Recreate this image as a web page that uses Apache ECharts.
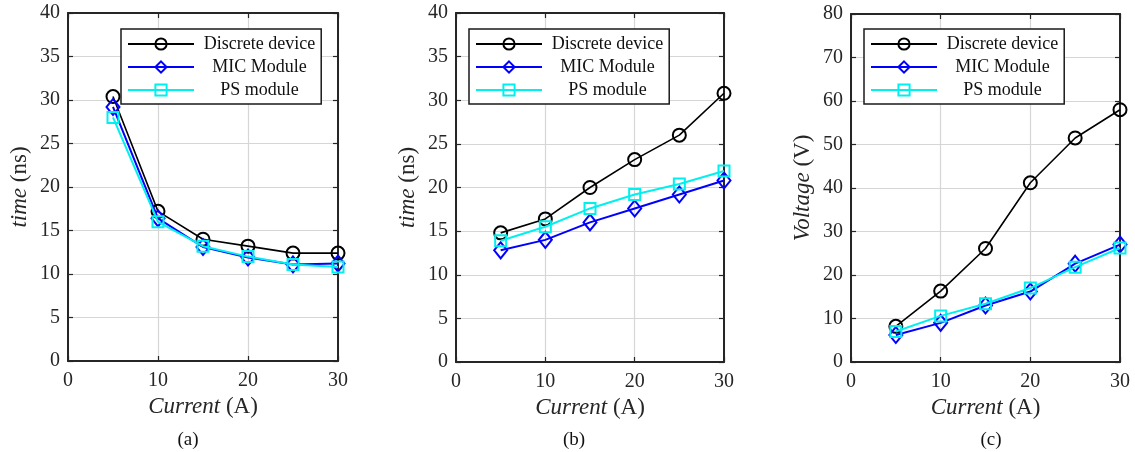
<!DOCTYPE html>
<html>
<head>
<meta charset="utf-8">
<script src="https://cdn.jsdelivr.net/npm/echarts@6/dist/echarts.min.js"></script>
<style>
  html, body { margin: 0; padding: 0; background: #fff; }
  #chart { width: 1135px; height: 452px; }
</style>
</head>
<body>
<div id="chart"></div>
<script>
// Current (A) at which each quantity was measured
const currents = [5, 10, 15, 20, 25, 30];
const xTicks = [0, 10, 20, 30];

// (a) time (ns) vs current
const aDiscrete = [30.4, 17.2, 14.0, 13.2, 12.4, 12.4];
const aMIC      = [29.2, 16.4, 13.1, 11.9, 11.1, 11.2];
const aPS       = [28.0, 16.0, 13.2, 12.0, 11.1, 10.8];

// (b) time (ns) vs current
const bDiscrete = [14.8, 16.4, 20.0, 23.2, 26.0, 30.8];
const bMIC      = [12.8, 14.0, 16.0, 17.6, 19.2, 20.8];
const bPS       = [13.9, 15.5, 17.6, 19.2, 20.4, 21.9];

// (c) voltage (V) vs current
const cDiscrete = [8.2, 16.3, 26.1, 41.2, 51.5, 58.0];
const cMIC      = [6.2, 9.0, 13.0, 16.2, 22.6, 27.0];
const cPS       = [7.0, 10.6, 13.4, 17.0, 21.8, 26.2];

const seriesNames = ['Discrete device', 'MIC Module', 'PS module'];
const captions = ['(a)', '(b)', '(c)'];

const FONT = "'Liberation Serif', 'Times New Roman', serif";
const AXIS_COLOR = '#262626';
const GRID_COLOR = '#d6d6d6';
const COLORS = ['#000000', '#0000ff', '#00f0f0'];
const DIAMOND = 'path://M0,-1L1,0L0,1L-1,0Z';
const SQUARE = 'path://M-1,-1L1,-1L1,1L-1,1Z';

const panels = [
  { left: 68,  top: 13, width: 270, height: 348, yMax: 40, yStep: 5,  yName: '{i|time} (ns)',    data: [aDiscrete, aMIC, aPS], legendLeft: 121, capX: 188 },
  { left: 456, top: 13, width: 268, height: 349, yMax: 40, yStep: 5,  yName: '{i|time} (ns)',    data: [bDiscrete, bMIC, bPS], legendLeft: 469, capX: 574 },
  { left: 851, top: 14, width: 269, height: 348, yMax: 80, yStep: 10, yName: '{i|Voltage} (V)', data: [cDiscrete, cMIC, cPS], legendLeft: 864, capX: 991 }
];

const grid = [], xAxis = [], yAxis = [], series = [], legend = [], graphic = [];

const boxLine = { show: true, onZero: false, lineStyle: { color: AXIS_COLOR, width: 2 } };
const inTick = { show: true, inside: true, length: 5, lineStyle: { color: AXIS_COLOR, width: 1.2 } };
const labelStyle = { fontFamily: FONT, fontSize: 20, color: AXIS_COLOR };
const nameRich = { i: { fontFamily: FONT, fontSize: 23, fontStyle: 'italic', color: AXIS_COLOR } };

panels.forEach((p, gi) => {
  grid.push({ left: p.left, top: p.top, width: p.width, height: p.height, containLabel: false });

  // bottom axis with labels and grid lines
  xAxis.push({
    type: 'value', gridIndex: gi, min: 0, max: 30, interval: 10,
    name: '{i|Current} (A)', nameLocation: 'middle', nameGap: 33,
    nameTextStyle: { fontFamily: FONT, fontSize: 23, color: AXIS_COLOR, rich: nameRich },
    axisLine: boxLine, axisTick: inTick,
    axisLabel: Object.assign({ margin: 10, customValues: xTicks }, labelStyle),
    splitLine: { show: true, lineStyle: { color: GRID_COLOR, width: 1.2 } }
  });
  // top edge of the box
  xAxis.push({
    type: 'value', gridIndex: gi, position: 'top', min: 0, max: 30, interval: 10,
    axisLine: boxLine, axisTick: inTick, axisLabel: { show: false }, splitLine: { show: false }
  });

  // left axis with labels and grid lines
  yAxis.push({
    type: 'value', gridIndex: gi, min: 0, max: p.yMax, interval: p.yStep,
    name: p.yName, nameLocation: 'middle', nameGap: 37, nameRotate: 90,
    nameTextStyle: { fontFamily: FONT, fontSize: 23, color: AXIS_COLOR, rich: nameRich },
    axisLine: boxLine, axisTick: inTick,
    axisLabel: Object.assign({ margin: 8 }, labelStyle),
    splitLine: { show: true, lineStyle: { color: GRID_COLOR, width: 1.2 } }
  });
  // right edge of the box
  yAxis.push({
    type: 'value', gridIndex: gi, position: 'right', min: 0, max: p.yMax, interval: p.yStep,
    axisLine: boxLine, axisTick: inTick, axisLabel: { show: false }, splitLine: { show: false }
  });

  const styles = [
    { symbol: 'circle',  symbolSize: 13,       lineWidth: 1.6 },
    { symbol: DIAMOND,   symbolSize: [13, 16], lineWidth: 2 },
    { symbol: SQUARE,    symbolSize: 11,       lineWidth: 2 }
  ];
  p.data.forEach((vals, si) => {
    const st = styles[si];
    series.push({
      type: 'line', name: seriesNames[si],
      xAxisIndex: gi * 2, yAxisIndex: gi * 2,
      data: currents.map((c, k) => [c, vals[k]]),
      symbol: st.symbol, symbolSize: st.symbolSize, showSymbol: true,
      lineStyle: { color: COLORS[si], width: st.lineWidth },
      itemStyle: { color: 'rgba(255,255,255,0)', borderColor: COLORS[si], borderWidth: 2 },
      emphasis: { disabled: true },
      animation: false,
      z: 3 + si
    });
  });

  legend.push({
    data: seriesNames,
    orient: 'vertical',
    left: p.legendLeft, top: 29,
    backgroundColor: '#ffffff',
    borderColor: '#1a1a1a', borderWidth: 1.5, borderRadius: 0,
    padding: [6, 6, 5, 6],
    itemWidth: 66, itemHeight: 14, itemGap: 5,
    selectedMode: false,
    formatter: name => '{t|' + name + '}',
    textStyle: {
      fontFamily: FONT, fontSize: 18, color: '#111',
      rich: { t: { fontFamily: FONT, fontSize: 18, color: '#111', width: 121, align: 'center' } }
    }
  });

  graphic.push({
    type: 'text', x: p.capX, y: 440,
    style: { text: captions[gi], font: '19px ' + FONT, fill: '#111', textAlign: 'center', textVerticalAlign: 'middle' }
  });
});

const chart = echarts.init(document.getElementById('chart'), null, { renderer: 'canvas' });
chart.setOption({
  backgroundColor: '#ffffff',
  animation: false,
  grid, xAxis, yAxis, series, legend, graphic
});
</script>
</body>
</html>
